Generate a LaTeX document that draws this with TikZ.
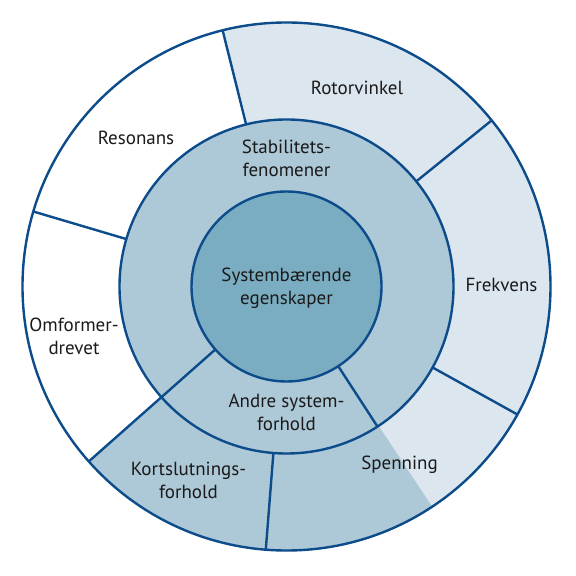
\documentclass[tikz,border=0pt]{standalone}
\usepackage{fontspec}
\setmainfont{PT Sans}
\definecolor{navy}{HTML}{0D4C8B}
\definecolor{pale}{HTML}{DCE6EF}
\definecolor{mist}{HTML}{ADC8D6}
\definecolor{deep}{HTML}{7AADC1}
\definecolor{ink}{HTML}{1A1A1A}
\begin{document}
\begin{tikzpicture}[x=0.5pt,y=0.5pt,font=\fontsize{9.5}{11.5}\selectfont,text=ink,line width=1.2pt]
  \useasboundingbox (-286.5,-289.5) rectangle (288.5,286.5);
  \def\rin{95}\def\rmid{167}\def\rout{264}
  \fill[pale] (0,0) -- (-56.5:\rout) arc[start angle=-56.5,end angle=104,radius=\rout] -- cycle;
  \fill[mist] (0,0) -- (221.5:\rout) arc[start angle=221.5,end angle=303.5,radius=\rout] -- cycle;
  \draw[navy,fill=mist] (0,0) circle (\rmid);
  \draw[navy,fill=deep] (0,0) circle (\rin);
  \foreach \a in {104,39,-29,-94.5,163.5}
    \draw[navy] (\a:\rmid) -- (\a:\rout);
  \draw[navy] (221.5:\rin) -- (221.5:\rout);
  \draw[navy] (-57:\rin) -- (-57:\rmid);
  \draw[navy] (0,0) circle (\rout);
  \node (rotor) at (70.5,199) {Rotorvinkel};
  \node (reson) at (-150.5,149) {Resonans};
  \node[align=center] (stab) at (0,128.5) {Stabilitets-\\fenomener};
  \node[align=center] (sysb) at (0,-1.5) {Systembærende\\egenskaper};
  \node (frek) at (215,1.5) {Frekvens};
  \node[align=center] (omf) at (-212.5,-49.5) {Omformer-\\drevet};
  \node[align=center] (andre) at (0,-126) {Andre system-\\forhold};
  \node[align=center] (kort) at (-98,-194) {Kortslutnings-\\forhold};
  \node (spen) at (113,-178.5) {Spenning};
\end{tikzpicture}
\end{document}
